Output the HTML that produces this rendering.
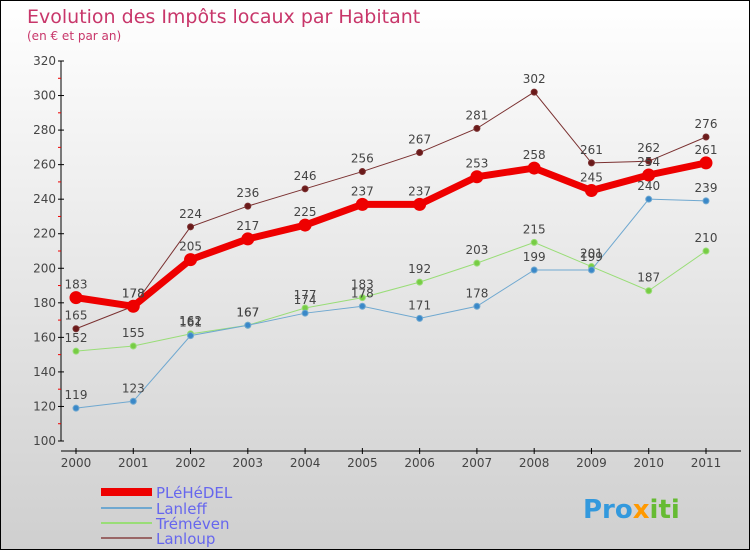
<!DOCTYPE html>
<html><head><meta charset="utf-8"><style>
body{margin:0}
#c{width:748px;height:548px;border:1px solid #000;background:linear-gradient(#ffffff,#cfcfcf);position:relative;font-family:"DejaVu Sans","Liberation Sans",sans-serif}
</style></head><body>
<div id="c">
<svg id="s" width="748" height="548" style="position:absolute;left:0;top:0">
<text x="26" y="22" font-size="19" fill="#c8366a">Evolution des Impôts locaux par Habitant</text>
<text x="26" y="39" font-size="12" fill="#c8366a">(en € et par an)</text>
<g id="ax"></g><g id="lines"></g><g id="labels"></g>
<g>
<line x1="100" y1="491" x2="151" y2="491" stroke="#ee0000" stroke-width="8"/>
<text x="155" y="497" font-size="15" fill="#6666ee">PLéHéDEL</text>
<line x1="100" y1="507" x2="151" y2="507" stroke="#6fa8d0" stroke-width="2"/>
<text x="155" y="513" font-size="15" fill="#6666ee">Lanleff</text>
<line x1="100" y1="522" x2="151" y2="522" stroke="#99dd77" stroke-width="2"/>
<text x="155" y="528" font-size="15" fill="#6666ee">Tréméven</text>
<line x1="100" y1="537" x2="151" y2="537" stroke="#996666" stroke-width="2"/>
<text x="155" y="543" font-size="15" fill="#6666ee">Lanloup</text>
</g>
<text x="582" y="517" font-size="26" font-weight="bold" fill="#3399dd">Pro<tspan fill="#ff9900">x</tspan><tspan fill="#66bb33">iti</tspan></text>
</svg></div>
<script>
const years=["2000","2001","2002","2003","2004","2005","2006","2007","2008","2009","2010","2011"];
const yTicks=[100,120,140,160,180,200,220,240,260,280,300,320];
const plehedel=[183,178,205,217,225,237,237,253,258,245,254,261];
const lanleff=[119,123,161,167,174,178,171,178,199,199,240,239];
const tremeven=[152,155,162,167,177,183,192,203,215,201,187,210];
const lanloup=[165,178,224,236,246,256,267,281,302,261,262,276];
const NS="http://www.w3.org/2000/svg";
const X=i=>75+i*(630/11);
const Y=v=>440-(v-100)*(380/220);
function mk(t,a,p){const e=document.createElementNS(NS,t);for(const k in a)e.setAttribute(k,a[k]);p.appendChild(e);return e;}
const ax=document.getElementById('ax');
mk('line',{x1:60,y1:60,x2:60,y2:440,stroke:'#000'},ax);
mk('line',{x1:60,y1:450,x2:740,y2:450,stroke:'#000'},ax);
yTicks.forEach((v,i)=>{
 mk('line',{x1:57,y1:Y(v),x2:63,y2:Y(v),stroke:'#000'},ax);
 const t=mk('text',{x:55,y:Y(v)+4,'font-size':12,fill:'#444','text-anchor':'end'},ax);
 
 
 t.textContent=v;
 if(i<yTicks.length-1)mk('line',{x1:57,y1:Y(v+10),x2:60,y2:Y(v+10),stroke:'#e00'},ax);
});
years.forEach((y,i)=>{
 mk('line',{x1:X(i),y1:447,x2:X(i),y2:453,stroke:'#000'},ax);
 const t=mk('text',{x:X(i),y:466,'font-size':12,fill:'#444','text-anchor':'middle'},ax);
 
 
 t.textContent=y;
});
const L=document.getElementById('lines'),T=document.getElementById('labels');
function series(d,name,col,fill,w,r){
 const g=mk('g',{},L);
 
 
 mk('polyline',{points:d.map((v,i)=>X(i)+','+Y(v)).join(' '),fill:'none',stroke:col,'stroke-width':w},g);
 d.forEach((v,i)=>{
  const c=mk('circle',{cx:X(i),cy:Y(v),r:r,fill:fill,stroke:col,'stroke-width':1},g);
  
  
  const t=mk('text',{x:X(i),y:Y(v)-9,'font-size':12,fill:'#444','text-anchor':'middle'},T);
  
  
  t.textContent=v;
 });
}
series(lanloup,'lanloup','#7a3030','#6b1a1a',1,3);
series(tremeven,'tremeven','#99dd77','#77cc44',1,3);
series(lanleff,'lanleff','#6fa8d0','#3a88c8',1,3);
series(plehedel,'plehedel','#ee0000','#ee0000',7,6);
</script>
</body></html>
